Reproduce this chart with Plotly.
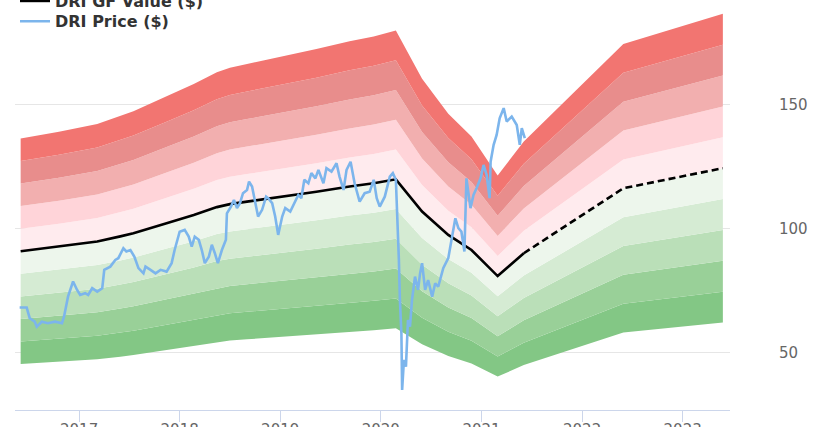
import pandas as pd
import plotly.graph_objects as go

# ---- data (decimal years) ----
gf_t = [2016.42, 2016.80, 2017.18, 2017.41, 2017.54, 2017.87, 2018.14, 2018.37, 2018.50,
        2018.67, 2019.03, 2019.36, 2019.69, 2019.93, 2020.15, 2020.41, 2020.67, 2020.90,
        2021.16, 2021.42, 2022.41, 2023.40]
gf_v = [91.0, 92.8, 94.9, 97.0, 98.3, 102.3, 105.6, 108.8, 110.0,
        111.0, 113.0, 115.0, 117.1, 118.4, 120.0, 107.0, 97.6, 91.5,
        81.0, 90.2, 116.4, 124.5]
gf_solid_count = 20  # points up to the last reported value; the rest are estimates

price_t = [2016.41, 2016.48, 2016.51, 2016.56, 2016.58, 2016.63, 2016.69, 2016.76, 2016.83, 2016.85,
           2016.89, 2016.94, 2016.98, 2017.01, 2017.06, 2017.09, 2017.13, 2017.18, 2017.23, 2017.25,
           2017.31, 2017.36, 2017.39, 2017.44, 2017.47, 2017.51, 2017.55, 2017.59, 2017.64, 2017.66,
           2017.71, 2017.76, 2017.81, 2017.87, 2017.92, 2017.95, 2018.00, 2018.05, 2018.09, 2018.12,
           2018.15, 2018.19, 2018.22, 2018.25, 2018.29, 2018.32, 2018.35, 2018.38, 2018.42, 2018.46,
           2018.47, 2018.51, 2018.54, 2018.57, 2018.60, 2018.63, 2018.67, 2018.69, 2018.72, 2018.75,
           2018.78, 2018.82, 2018.86, 2018.88, 2018.92, 2018.95, 2018.98, 2019.02, 2019.05, 2019.10,
           2019.15, 2019.18, 2019.21, 2019.24, 2019.28, 2019.31, 2019.35, 2019.38, 2019.43, 2019.46,
           2019.51, 2019.56, 2019.59, 2019.63, 2019.66, 2019.70, 2019.74, 2019.79, 2019.84, 2019.89,
           2019.93, 2019.96, 2019.99, 2020.04, 2020.09, 2020.12, 2020.15, 2020.17, 2020.18, 2020.19,
           2020.205, 2020.212, 2020.23, 2020.25, 2020.27, 2020.29, 2020.31, 2020.34, 2020.37, 2020.39,
           2020.41, 2020.44, 2020.47, 2020.51, 2020.54, 2020.57, 2020.61, 2020.62, 2020.67, 2020.70,
           2020.74, 2020.77, 2020.80, 2020.83, 2020.85, 2020.89, 2020.92, 2020.95, 2020.99, 2021.02,
           2021.05, 2021.08, 2021.09, 2021.12, 2021.15, 2021.18, 2021.22, 2021.25, 2021.30, 2021.35,
           2021.38, 2021.40, 2021.43]
price_v = [68.3, 68.3, 64.0, 62.6, 60.6, 62.6, 62.0, 62.6, 62.0, 64.6,
           72.7, 78.8, 75.4, 73.4, 74.1, 73.4, 76.1, 74.7, 76.1, 83.5,
           84.8, 87.5, 88.2, 92.2, 90.9, 91.5, 88.8, 84.2, 82.1, 84.8,
           83.5, 82.1, 83.5, 82.8, 86.2, 91.5, 98.9, 99.6, 96.9, 92.9,
           96.9, 95.6, 91.5, 86.2, 88.8, 93.6, 90.2, 86.2, 91.5, 95.6,
           106.3, 109.0, 111.7, 108.4, 110.4, 114.4, 115.7, 119.1, 117.1, 111.0,
           105.0, 107.7, 113.0, 112.4, 110.4, 105.0, 97.6, 105.0, 108.4, 107.0,
           111.0, 113.7, 112.4, 119.8, 118.4, 122.5, 120.4, 123.8, 118.4, 124.5,
           123.1, 126.5, 121.1, 115.7, 123.8, 127.1, 118.4, 111.0, 114.4, 115.0,
           119.8, 112.4, 109.0, 113.0, 121.1, 122.5, 119.8, 100.9, 87.5, 71.4,
           57.9, 35.1, 47.2, 44.5, 63.3, 60.6, 71.4, 80.8, 75.4, 82.1,
           86.2, 75.4, 79.4, 72.7, 78.1, 76.7, 83.5, 84.2, 88.2, 94.9,
           104.3, 100.3, 98.9, 90.9, 120.4, 108.4, 113.7, 116.4, 120.4, 125.8,
           121.8, 112.4, 127.1, 133.9, 137.9, 144.6, 148.7, 143.3, 145.3, 141.9,
           133.9, 140.6, 136.6]

band_steps = [0.5, 0.6, 0.7, 0.8, 0.9, 1.0, 1.1, 1.2, 1.3, 1.4, 1.5]
band_colors = ["#83c785", "#99d098", "#badfb8", "#d5ebd3", "#edf6ec",
               "#ffebee", "#ffd4d9", "#f2afaf", "#e88d8c", "#f27571"]

y_ticks = [50, 100, 150]
x_range = [2016.364, 2023.471]
y_range = [27.0, 192.3]

FONT = "DejaVu Sans"


def to_date(t):
    year = int(t)
    start = pd.Timestamp(year, 1, 1)
    days = 366 if pd.Timestamp(year, 12, 31).dayofyear == 366 else 365
    return start + pd.Timedelta(days=(t - year) * days)


gf_x = [to_date(t) for t in gf_t]
price_x = [to_date(t) for t in price_t]

fig = go.Figure()

# value bands
for i, m in enumerate(band_steps):
    fig.add_trace(go.Scatter(
        x=gf_x, y=[v * m for v in gf_v], mode="lines",
        line=dict(width=0), hoverinfo="skip", showlegend=False,
        fill=None if i == 0 else "tonexty",
        fillcolor=None if i == 0 else band_colors[i - 1],
    ))

fig.add_trace(go.Scatter(
    x=gf_x[:gf_solid_count], y=gf_v[:gf_solid_count], mode="lines",
    name="DRI GF Value ($)", line=dict(color="#000000", width=2.6),
    legend="legend",
))
fig.add_trace(go.Scatter(
    x=gf_x[gf_solid_count - 1:], y=gf_v[gf_solid_count - 1:], mode="lines",
    showlegend=False, line=dict(color="#000000", width=2.6, dash="7px,4px"),
))
fig.add_trace(go.Scatter(
    x=price_x, y=price_v, mode="lines", name="DRI Price ($)",
    line=dict(color="#7cb5ec", width=2.6), legend="legend2",
))

legend_font = dict(family=FONT, size=16, color="#333333", weight="bold")

fig.update_layout(
    width=820, height=427,
    margin=dict(l=15, r=90, t=0, b=17, autoexpand=False),
    paper_bgcolor="white", plot_bgcolor="white",
    font=dict(family=FONT, color="#666666"),
    showlegend=True,
    legend=dict(
        x=0.0, y=1.039, xanchor="left", yanchor="top", traceorder="normal",
        bgcolor="rgba(0,0,0,0)", borderwidth=0, font=legend_font,
    ),
    legend2=dict(
        x=0.0, y=0.9895, xanchor="left", yanchor="top", traceorder="normal",
        bgcolor="rgba(0,0,0,0)", borderwidth=0, font=legend_font,
    ),
    xaxis=dict(
        type="date",
        range=[to_date(x_range[0]), to_date(x_range[1])],
        tickformat="%Y", dtick="M12", tick0="2017-01-01",
        ticks="outside", ticklen=11, tickcolor="#ccd6eb",
        ticklabelstandoff=-5,
        showline=True, linecolor="#ccd6eb", linewidth=1,
        showgrid=False, zeroline=False,
        tickfont=dict(family=FONT, size=15, color="#666666"),
    ),
    yaxis=dict(
        side="right", range=y_range, tickvals=y_ticks,
        showgrid=True, gridcolor="#e6e6e6", gridwidth=1,
        zeroline=False, showline=False,
        ticks="outside", ticklen=45, tickcolor="rgba(0,0,0,0)",
        tickfont=dict(family=FONT, size=15, color="#666666"),
    ),
)

fig.write_html("out.html", config={"displayModeBar": False},
               post_script="document.body.style.margin='0px';")
